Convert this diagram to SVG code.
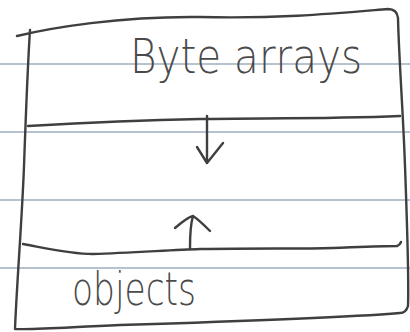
<svg xmlns="http://www.w3.org/2000/svg" width="410" height="332" viewBox="0 0 410 332">
  <style>
    .rule { stroke: #b7c2cf; stroke-width: 2; fill: none; }
    .pencil { stroke: #3f3f3f; stroke-width: 2.4; fill: none; stroke-linecap: round; stroke-linejoin: round; }
    .label { font-family: "DejaVu Sans", "Liberation Sans", sans-serif; fill: #4a4a4a; font-weight: 200; }
  </style>
  <rect width="410" height="332" fill="#ffffff"/>
  <g id="paper">
    <line class="rule" x1="0" y1="64" x2="410" y2="64"/>
    <line class="rule" x1="0" y1="132" x2="410" y2="132"/>
    <line class="rule" x1="0" y1="200" x2="410" y2="200"/>
    <line class="rule" x1="0" y1="268" x2="410" y2="268"/>
  </g>
  <g id="frame">
    <path class="pencil" d="M17,36 C50,28 120,16 200,17 C280,19 340,13 388,9 Q397,9 398,18 C399,60 403,110 405,166 C407,220 409,280 408,306 Q406,313 400,313 C340,318 220,322 120,325 C70,327 40,330 15,329 C17,280 22,220 24,166 C26,110 28,60 30,30"/>
  </g>
  <g id="byte-arrays">
    <path class="pencil" d="M28,126 C80,123 150,120 200,119 C260,118 330,119 400,116"/>
    <text class="label" x="130" y="73" font-size="48" textLength="232" lengthAdjust="spacingAndGlyphs">Byte arrays</text>
  </g>
  <g id="objects">
    <path class="pencil" d="M23,244 C45,248 70,254 93,254 C130,253 170,250 200,249 C260,248 300,249 333,248 C360,247 380,246 397,246 Q400,245 401,242"/>
    <text class="label" x="72" y="305" font-size="46" textLength="124" lengthAdjust="spacingAndGlyphs">objects</text>
  </g>
  <g id="connectors">
    <path class="pencil" d="M207,116 L207,163 M197,147 L207,163 L223,143"/>
    <path class="pencil" d="M190,248 C190,238 190,226 193,216 M175,228 C182,222 188,217 193,216 C198,219 205,226 210,231"/>
  </g>
</svg>
